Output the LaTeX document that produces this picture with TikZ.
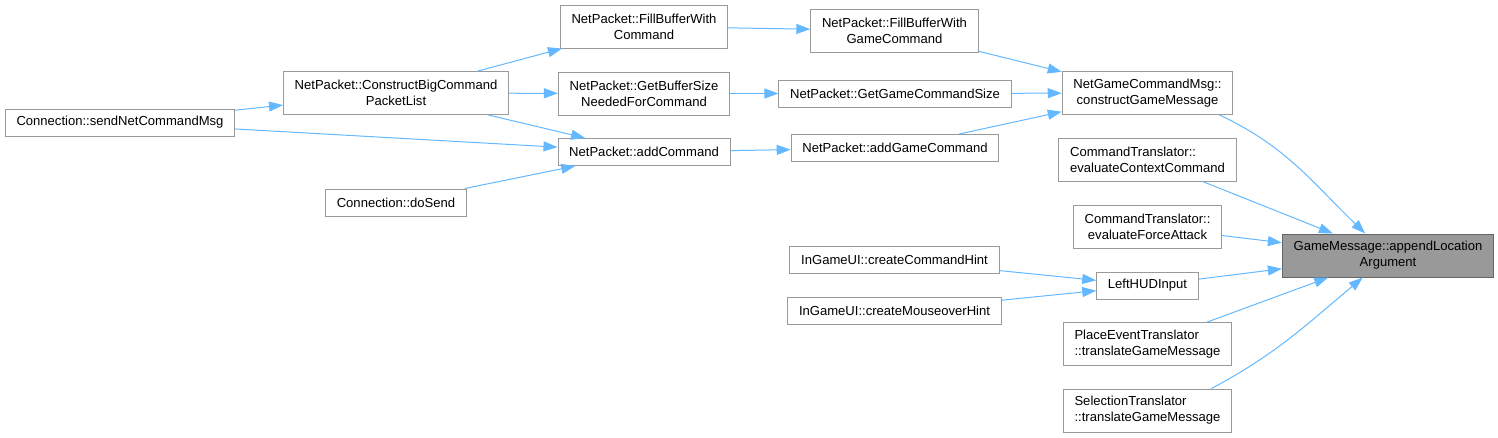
\documentclass[tikz,border=0pt]{standalone}
\usepackage{fontspec}
\setmainfont{Liberation Sans}
\usetikzlibrary{arrows.meta}
\definecolor{edgeblue}{RGB}{99,184,255}
\definecolor{boxgray}{RGB}{153,153,153}
\definecolor{hlgray}{RGB}{153,153,153}
\definecolor{hlborder}{RGB}{102,102,102}

\begin{document}
\begin{tikzpicture}[x=0.75pt, y=-0.75pt, font=\fontsize{9.8}{12}\selectfont,
    fn/.style={draw=boxgray, line width=0.75pt, fill=white, inner xsep=8.4pt, inner ysep=3pt, minimum height=20.25pt, align=center},
    fntwo/.style={fn, minimum height=32.25pt},
    hl/.style={fntwo, fill=hlgray, draw=hlborder},
    call/.style={draw=edgeblue, line width=0.75pt, -{Triangle[length=10.5pt,width=7.5pt]}}]
    \useasboundingbox (0,0) rectangle (1498,437);

    % Nodes
    \node[fn] (sendmsg) at (120,122.5) {Connection::sendNetCommandMsg};
    \node[fntwo] (bigcmd) at (396,93) {NetPacket::ConstructBigCommand\\PacketList};
    \node[fn] (dosend) at (396,202.5) {Connection::doSend};
    \node[fntwo] (fillcmd) at (644,26.5) {NetPacket::FillBufferWith\\Command};
    \node[fntwo] (bufsize) at (644,93.5) {NetPacket::GetBufferSize\\NeededForCommand};
    \node[fn] (addcmd) at (644,152) {NetPacket::addCommand};
    \node[fntwo] (fillgame) at (894.5,30.5) {NetPacket::FillBufferWith\\GameCommand};
    \node[fn] (gamesize) at (895,93.5) {NetPacket::GetGameCommandSize};
    \node[fn] (addgame) at (895,148) {NetPacket::addGameCommand};
    \node[fntwo] (construct) at (1147.5,93) {NetGameCommandMsg::\\constructGameMessage};
    \node[fntwo, align=left] (context) at (1147.5,159.5) {CommandTranslator::\\evaluateContextCommand};
    \node[fntwo] (force) at (1147.5,226.5) {CommandTranslator::\\evaluateForceAttack};
    \node[fn] (cmdhint) at (894.5,260) {InGameUI::createCommandHint};
    \node[fn] (mousehint) at (894.5,311) {InGameUI::createMouseoverHint};
    \node[fn] (lefthud) at (1147.5,285.5) {LeftHUDInput};
    \node[fntwo, align=left] (placeevent) at (1147.5,344) {PlaceEventTranslator\\::translateGameMessage};
    \node[fntwo, align=left] (selection) at (1147.5,410.5) {SelectionTranslator\\::translateGameMessage};
    \node[hl] (append) at (1388,255.5) {GameMessage::appendLocation\\Argument};

    % Edges
    \draw[call] (sendmsg) -- (bigcmd);
    \draw[call] (sendmsg) -- (addcmd);
    \draw[call] (bigcmd) -- (fillcmd);
    \draw[call] (bigcmd) -- (bufsize);
    \draw[call] (bigcmd) -- (addcmd);
    \draw[call] (dosend) -- (addcmd);
    \draw[call] (fillcmd) -- (fillgame);
    \draw[call] (bufsize) -- (gamesize);
    \draw[call] (addcmd) -- (addgame);
    \draw[call] (fillgame) -- (construct);
    \draw[call] (gamesize) -- (construct);
    \draw[call] (addgame) -- (construct);
    \draw[call] (construct.-17) to[out=-25, in=136] (append.136);
    \draw[call] (context) -- (append);
    \draw[call] (force) -- (append);
    \draw[call] (lefthud) -- (append);
    \draw[call] (cmdhint) -- (lefthud);
    \draw[call] (mousehint) -- (lefthud);
    \draw[call] (placeevent) -- (append);
    \draw[call] (selection.19) to[out=28, in=-140] (append.-139);
\end{tikzpicture}
\end{document}
